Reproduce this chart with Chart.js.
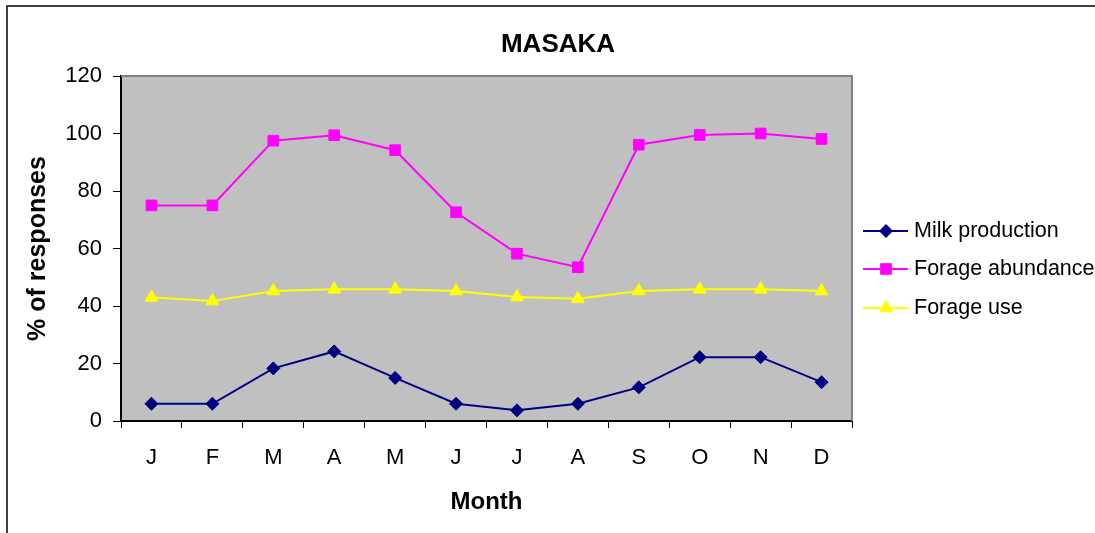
<!DOCTYPE html>
<html>
<head>
<meta charset="utf-8">
<script src="https://cdn.jsdelivr.net/npm/chart.js@4.4.1/dist/chart.umd.min.js"></script>
<style>
  html, body { margin: 0; padding: 0; background: #fff; }
  canvas { display: block; }
</style>
</head>
<body>
<canvas id="c" width="1095" height="533"></canvas>
<script>
const months = ['J', 'F', 'M', 'A', 'M', 'J', 'J', 'A', 'S', 'O', 'N', 'D'];
const milkProduction = [6, 6, 18.3, 24.2, 15, 6, 3.7, 6, 11.7, 22.2, 22.2, 13.5];
const forageAbundance = [75, 75, 97.5, 99.4, 94.2, 72.6, 58.2, 53.5, 96.1, 99.5, 100, 98.1];
const forageUse = [43, 41.7, 45.2, 45.8, 45.8, 45.2, 43.1, 42.5, 45.2, 45.8, 45.8, 45.2];
const seriesNames = ['Milk production', 'Forage abundance', 'Forage use'];
const chartTitle = 'MASAKA';
const yTitle = '% of responses';
const xTitle = 'Month';

const FONT = '"Liberation Sans", Arial, Helvetica, sans-serif';

const decor = {
  id: 'decor',
  beforeDraw(chart) {
    const {ctx, chartArea: a} = chart;
    ctx.save();
    ctx.fillStyle = '#C0C0C0';
    ctx.fillRect(a.left, a.top, a.right - a.left, a.bottom - a.top);
    ctx.strokeStyle = '#000';
    ctx.lineWidth = 1.5;
    ctx.strokeRect(7, 6, 2000, 2000);
    ctx.restore();
  },
  afterDatasetsDraw(chart) {
    const {ctx, chartArea: a} = chart;
    ctx.save();
    ctx.strokeStyle = '#808080';
    ctx.lineWidth = 2;
    ctx.beginPath();
    ctx.moveTo(a.left, a.top);
    ctx.lineTo(a.right, a.top);
    ctx.lineTo(a.right, a.bottom);
    ctx.stroke();
    ctx.restore();
  },
  afterDraw(chart) {
    const {ctx} = chart;
    ctx.save();
    ctx.fillStyle = '#000';
    ctx.font = 'bold 26px ' + FONT;
    ctx.textAlign = 'center';
    ctx.textBaseline = 'middle';
    ctx.fillText(chartTitle, 558, 45);
    const ys = [231, 269, 308];
    chart.data.datasets.forEach((ds, i) => {
      const y = ys[i];
      ctx.strokeStyle = ds.borderColor;
      ctx.lineWidth = 2;
      ctx.beginPath();
      ctx.moveTo(863, y);
      ctx.lineTo(908, y);
      ctx.stroke();
      ctx.fillStyle = ds.pointBackgroundColor;
      ctx.strokeStyle = ds.pointBorderColor;
      ctx.lineWidth = 1;
      Chart.helpers.drawPoint(ctx, {
        pointStyle: ds.pointStyle,
        radius: ds.pointRadius,
        borderWidth: 1
      }, 886, y);
      ctx.fillStyle = '#000';
      ctx.font = '21.5px ' + FONT;
      ctx.textAlign = 'left';
      ctx.textBaseline = 'middle';
      ctx.fillText(ds.label, 914, y);
    });
    ctx.restore();
  }
};

function mkDs(label, data, color, style, r) {
  return {
    label, data,
    borderColor: color,
    backgroundColor: color,
    pointBackgroundColor: color,
    pointBorderColor: color,
    pointStyle: style,
    pointRadius: r,
    pointHoverRadius: r,
    pointBorderWidth: 1,
    borderWidth: 2,
    tension: 0,
    fill: false
  };
}

new Chart(document.getElementById('c'), {
  type: 'line',
  data: {
    labels: months,
    datasets: [
      mkDs(seriesNames[0], milkProduction, '#000080', 'rectRot', 6.5),
      mkDs(seriesNames[1], forageAbundance, '#FF00FF', 'rect', 7.5),
      mkDs(seriesNames[2], forageUse, '#FFFF00', 'triangle', 7.5)
    ]
  },
  options: {
    responsive: false,
    animation: false,
    events: [],
    layout: { padding: { left: 20, top: 76, right: 243, bottom: 16 } },
    plugins: {
      legend: { display: false },
      title: { display: false },
      tooltip: { enabled: false }
    },
    scales: {
      x: {
        offset: true,
        grid: { offset: true, drawOnChartArea: false, drawTicks: true, tickLength: 7, color: '#000', lineWidth: 1 },
        border: { display: true, color: '#000', width: 2 },
        ticks: { color: '#000', padding: 17, font: { family: FONT, size: 22 }, maxRotation: 0, autoSkip: false },
        title: { display: true, text: xTitle, color: '#000', font: { family: FONT, size: 24, weight: 'bold' }, padding: { top: 0, bottom: 0 } },
        afterFit(scale) { scale.height = 96; }
      },
      y: {
        min: 0, max: 120,
        ticks: { stepSize: 20, color: '#000', padding: 11, font: { family: FONT, size: 22 } },
        grid: { drawOnChartArea: false, drawTicks: true, tickLength: 8, color: '#000', lineWidth: 1 },
        border: { display: true, color: '#000', width: 2 },
        title: { display: true, text: yTitle, color: '#000', font: { family: FONT, size: 25, weight: 'bold' }, padding: { top: 3, bottom: 0 } },
        afterFit(scale) { scale.width = 101; }
      }
    }
  },
  plugins: [decor]
});
</script>
</body>
</html>
